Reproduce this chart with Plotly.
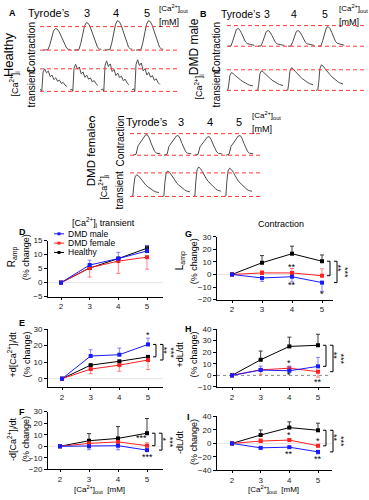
import plotly.graph_objects as go

W, H = 369, 500
FONT = "Liberation Sans, Arial, sans-serif"

# ---------------- DATA: representative traces (A-C) ----------------
CONTR_T = [0, 0.10, 0.16, 0.22, 0.28, 0.34, 0.40, 0.46, 0.52, 0.58, 0.64, 0.70, 0.76, 0.82, 0.88]
CONTR_HEALTHY = [0, 0, 0.02, 0.25, 0.6, 0.88, 1.0, 0.97, 0.85, 0.65, 0.42, 0.22, 0.1, 0.04, 0.03]
CONTR_MALE = [0, 0.02, 0.3, 0.7, 0.95, 1.0, 0.9, 0.7, 0.45, 0.25, 0.15, 0.12, 0.1, 0.06, 0.05]
CONTR_FEMALE = [0, 0.05, 0.45, 0.6, 0.7, 0.85, 0.98, 1.0, 0.85, 0.6, 0.35, 0.18, 0.1, 0.08, 0.07]

CA_T = [0, 0.06, 0.09, 0.13, 0.18, 0.24, 0.30, 0.36, 0.42, 0.48, 0.54, 0.60, 0.66, 0.72, 0.78, 0.84, 0.90]
CA_HEALTHY = [0.05, 0.08, 0.0, 0.85, 1.0, 0.82, 0.9, 0.65, 0.72, 0.52, 0.6, 0.45, 0.5, 0.35, 0.4, 0.28, 0.22]
CA_MALE = [0.0, 0.02, 0.3, 0.85, 1.0, 0.95, 0.85, 0.75, 0.68, 0.6, 0.52, 0.45, 0.4, 0.35, 0.3, 0.28, 0.25]
CA_FEMALE = [0.0, 0.02, 0.5, 0.9, 1.0, 0.95, 0.85, 0.72, 0.62, 0.52, 0.45, 0.38, 0.32, 0.27, 0.22, 0.2, 0.18]

# peak amplitude of each trace relative to the dashed reference lines
A_CONTR_AMP = [0.92, 1.17, 1.25, 1.25]
A_CA_AMP = [1.0, 1.2, 1.35, 1.4]
B_CONTR_AMP = [0.86, 0.76, 0.76, 0.95]
B_CA_AMP = [0.86, 0.95, 1.1, 1.24]
C_CONTR_AMP = [0.95, 0.91, 0.86, 0.91]
C_CA_AMP = [0.92, 1.08, 1.25, 1.2]

CONDITIONS = ["Tyrode\u2019s", "3", "4", "5"]

# ---------------- DATA: dose-response panels (D-I) ----------------
ca_out = [2, 3, 4, 5]
x_ticklabels = ["2", "3", "4", "5"]

D_male = [0, 6.3, 8.6, 11.3];   D_male_up = [0, 1.7, 2.2, 2.0];   D_male_dn = [0, 0, 0, 0]
D_female = [0, 5.3, 7.7, 9.1];  D_female_up = [0, 0, 0, 0];       D_female_dn = [0, 3.3, 4.4, 4.3]
D_healthy = [0, 5.2, 8.6, 12.3]; D_healthy_up = [0, 0, 0, 0.8];   D_healthy_dn = [0, 0, 0, 0]

E_male = [0, 13.7, 14.5, 20.7]; E_male_up = [0, 3.8, 4.0, 3.8];   E_male_dn = [0, 0, 0, 0]
E_female = [0, 5.8, 8.2, 11.3]; E_female_up = [0, 0, 0, 0];       E_female_dn = [0, 2.8, 3.7, 5.8]
E_healthy = [0, 8.2, 10.5, 13.2]; E_healthy_up = [0, 0, 0, 0];    E_healthy_dn = [0, 0, 0, 0]

F_male = [0, 0.0, 0.5, -3.3];   F_male_up = [0, 0, 0, 0];         F_male_dn = [0, 3.0, 3.5, 1.0]
F_female = [0, 2.5, 3.8, 0.5];  F_female_up = [0, 1.0, 0.5, 2.5]; F_female_dn = [0, 0, 0, 0]
F_healthy = [0, 4.8, 6.8, 11.3]; F_healthy_up = [0, 6.2, 10.2, 12.7]; F_healthy_dn = [0, 0, 0, 0]

G_male = [0, -2.8, -1.8, -6.5]; G_male_up = [0, 0, 0, 0];         G_male_dn = [0, 2.7, 4.2, 7.0]
G_female = [0, 1.2, 1.2, -1.0]; G_female_up = [0, 1.8, 3.5, 5.5]; G_female_dn = [0, 0, 0, 0]
G_healthy = [0, 9.3, 16.5, 10.5]; G_healthy_up = [0, 5.7, 6.0, 5.0]; G_healthy_dn = [0, 0, 0, 0]

H_male = [0, 4.6, 4.0, 7.8];    H_male_up = [0, 3.4, 4.0, 7.7];   H_male_dn = [0, 0, 0, 0]
H_female = [0, 4.8, 6.2, 3.2];  H_female_up = [0, 0, 0, 0];       H_female_dn = [0, 3.8, 2.0, 4.7]
H_healthy = [0, 13.5, 25.0, 26.0]; H_healthy_up = [0, 7.5, 8.0, 9.5]; H_healthy_dn = [0, 0, 0, 0]

I_male = [0, -6.5, -5.5, -12.5]; I_male_up = [0, 0, 0, 0];        I_male_dn = [0, 2.0, 2.0, 3.0]
I_female = [0, 3.5, 5.0, -3.5];  I_female_up = [0, 3.5, 2.0, 2.0]; I_female_dn = [0, 0, 0, 0]
I_healthy = [0, 12.5, 23.5, 19.5]; I_healthy_up = [0, 7.5, 8.5, 10.5]; I_healthy_dn = [0, 0, 0, 0]

# significance marks next to points: (x, y, text)
E_stars = [(5, 26.5, "*")]
F_stars = [(4.82, 7.5, "***"), (5, -9.5, "***")]
G_stars = [(4, 6.0, "**"), (4, -8.5, "**"), (5, -15.5, "*")]
H_stars = [(4, 11.0, "*"), (4, 0.0, "*"), (5, -5.5, "**")]
I_stars = [(4, 12.0, "*"), (4, -16.0, "**"), (5, 4.0, "*"), (5, -22.5, "**")]

# ---------------- helpers ----------------
def fx(px):
    return px / W

def fy(py):
    return 1 - py / H

BLUE, RED, BLACK = "#1a1aff", "#ff2020", "#000000"
ERR = {BLUE: "rgba(90,90,255,0.75)", RED: "rgba(255,90,90,0.75)", BLACK: "rgba(40,40,40,0.9)"}

fig = go.Figure()
layout = dict(width=W, height=H, margin=dict(l=0, r=0, t=0, b=0),
              paper_bgcolor="white", plot_bgcolor="rgba(0,0,0,0)",
              showlegend=False, font=dict(family=FONT, color="black", size=9))
shapes, annos = [], []

def text(px, py, s, size=9, angle=0, xanchor="center", yanchor="middle", bold=False, color="black"):
    if bold:
        s = "<b>" + s + "</b>"
    annos.append(dict(x=fx(px), y=fy(py), xref="paper", yref="paper", text=s, showarrow=False,
                      font=dict(size=size, family=FONT, color=color), textangle=angle,
                      xanchor=xanchor, yanchor=yanchor))

def pline(x0, y0, x1, y1, color="black", width=1):
    shapes.append(dict(type="line", xref="paper", yref="paper", x0=fx(x0), x1=fx(x1), y0=fy(y0), y1=fy(y1),
                       line=dict(color=color, width=width)))

# ---------------- trace panels ----------------
trace_rows = [
    (1, 40, 180, 43, 31, 47, 23, 8, 53, CONTR_T, CONTR_HEALTHY, A_CONTR_AMP),
    (2, 40, 180, 39, 31, 89, 66, 54, 96, CA_T, CA_HEALTHY, A_CA_AMP),
    (3, 227, 367, 228, 30, 43, 22, 8, 49, CONTR_T, CONTR_MALE, B_CONTR_AMP),
    (4, 227, 367, 226, 30, 88, 67, 54, 95, CA_T, CA_MALE, B_CA_AMP),
    (5, 130, 262, 133, 31, 154, 132, 118, 160, CONTR_T, CONTR_FEMALE, C_CONTR_AMP),
    (6, 130, 262, 131, 31, 196, 172, 160, 202, CA_T, CA_FEMALE, C_CA_AMP),
]
for (n, xl, xr, s0, sp, base, top, dtop, dbot, tt, shape, amps) in trace_rows:
    sx = "" if n == 1 else str(n)
    for k, a in enumerate(amps):
        fig.add_trace(go.Scatter(x=[k + t for t in tt], y=[a * v for v in shape], mode="lines",
                                 line=dict(color="#4d4d4d", width=1), xaxis="x" + sx, yaxis="y" + sx,
                                 hoverinfo="skip"))
    xr0 = (xl - s0) / sp
    xr1 = (xr - s0) / sp
    unit = base - top
    yr0 = (base - dbot) / unit
    yr1 = (base - dtop) / unit
    layout["xaxis" + sx] = dict(domain=[fx(xl), fx(xr)], range=[xr0, xr1], visible=False, anchor="y" + sx)
    layout["yaxis" + sx] = dict(domain=[fy(dbot), fy(dtop)], range=[yr0, yr1], visible=False, anchor="x" + sx)
    for yv in (0, 1):
        shapes.append(dict(type="line", xref="x" + sx + " domain", yref="y" + sx, x0=0, x1=1, y0=yv, y1=yv,
                           line=dict(color="#ff3b3b", width=1, dash="4px,3px")))

CA_HTML = "[Ca<sup>2+</sup>]"
# panel A labels
text(12, 9, "A", 9, bold=True)
for px, s in zip([49, 87, 116, 147], CONDITIONS):
    text(px, 9, s, 11)
text(157, 5, CA_HTML + "<sub>out</sub>", 8, xanchor="left")
text(157, 18, "[mM]", 9, xanchor="left")
text(8, 52, "Healthy", 13, angle=-90)
text(31, 45, "Contraction", 10, angle=-90)
text(15, 82, CA_HTML + "<sub>i</sub>", 9, angle=-90)
text(31, 86, "transient", 10, angle=-90)
# panel B labels
text(203, 10, "B", 9, bold=True)
for px, s in zip([241, 267, 294, 325], CONDITIONS):
    text(px, 10, s, 10.5)
text(337, 5, CA_HTML + "<sub>out</sub>", 8, xanchor="left")
text(337, 18, "[mM]", 9, xanchor="left")
text(194, 44, "DMD male", 12, angle=-90)
text(216, 45, "Contraction", 10, angle=-90)
text(199, 85, CA_HTML + "<sub>i</sub>", 9, angle=-90)
text(216, 86, "transient", 10, angle=-90)
# panel C labels
text(92, 117, "C", 9, bold=True)
for px, s in zip([147, 181, 210, 239], CONDITIONS):
    text(px, 120, s, 11)
text(250, 114, CA_HTML + "<sub>out</sub>", 8, xanchor="left")
text(250, 127, "[mM]", 9, xanchor="left")
text(91, 153, "DMD female", 11.5, angle=-90)
text(120, 140, "Contraction", 10, angle=-90)
text(104, 186, CA_HTML + "<sub>i</sub>", 9, angle=-90)
text(120, 190, "transient", 10, angle=-90)

# ---------------- dose-response panels ----------------
panels = [
    dict(n=7, xl=48, xr=163, p2=61, p5=147, yt=241, yb=298, yr=[-5, 15], yt_vals=[-5, 0, 5, 10, 15],
         series=[(D_healthy, D_healthy_up, D_healthy_dn, BLACK), (D_female, D_female_up, D_female_dn, RED),
                 (D_male, D_male_up, D_male_dn, BLUE)],
         stars=[], brackets=[], dotted=False),
    dict(n=8, xl=48, xr=163, p2=62, p5=148, yt=331, yb=390, yr=[-5, 30], yt_vals=[0, 10, 20, 30],
         series=[(E_healthy, E_healthy_up, E_healthy_dn, BLACK), (E_female, E_female_up, E_female_dn, RED),
                 (E_male, E_male_up, E_male_dn, BLUE)],
         stars=E_stars, brackets=[(E_male[3], E_healthy[3], "**", 1), (E_male[3], E_female[3], "***", 2)], dotted=False),
    dict(n=9, xl=48, xr=163, p2=60, p5=147, yt=415, yb=474, yr=[-20, 30], yt_vals=[-20, -10, 0, 10, 20, 30],
         series=[(F_healthy, F_healthy_up, F_healthy_dn, BLACK), (F_female, F_female_up, F_female_dn, RED),
                 (F_male, F_male_up, F_male_dn, BLUE)],
         stars=F_stars, brackets=[(F_healthy[3], F_female[3], "*", 1), (F_healthy[3], F_male[3], "***", 2)], dotted=False),
    dict(n=10, xl=217, xr=333, p2=232, p5=322, yt=237, yb=301, yr=[-20, 30], yt_vals=[-20, -10, 0, 10, 20, 30],
         series=[(G_healthy, G_healthy_up, G_healthy_dn, BLACK), (G_female, G_female_up, G_female_dn, RED),
                 (G_male, G_male_up, G_male_dn, BLUE)],
         stars=G_stars, brackets=[(G_healthy[3], G_female[3], "**", 1), (G_healthy[3], G_male[3], "***", 2)], dotted=False),
    dict(n=11, xl=217, xr=330, p2=232, p5=318, yt=331, yb=390, yr=[-10, 40], yt_vals=[-10, 0, 10, 20, 30, 40],
         series=[(H_healthy, H_healthy_up, H_healthy_dn, BLACK), (H_female, H_female_up, H_female_dn, RED),
                 (H_male, H_male_up, H_male_dn, BLUE)],
         stars=H_stars, brackets=[(H_healthy[3], H_male[3], "**", 1), (H_healthy[3], H_female[3], "***", 2)], dotted=True),
    dict(n=12, xl=217, xr=332, p2=232, p5=318, yt=420, yb=475, yr=[-40, 40], yt_vals=[-40, -20, 0, 20, 40],
         series=[(I_healthy, I_healthy_up, I_healthy_dn, BLACK), (I_female, I_female_up, I_female_dn, RED),
                 (I_male, I_male_up, I_male_dn, BLUE)],
         stars=I_stars, brackets=[(I_healthy[3], I_female[3], "**", 1), (I_healthy[3], I_male[3], "***", 2)], dotted=False),
]

for p in panels:
    sx = str(p["n"])
    unit = (p["p5"] - p["p2"]) / 3.0
    xr = [2 - (p["p2"] - p["xl"]) / unit, 5 + (p["xr"] - p["p5"]) / unit]
    y0, y1 = p["yr"]

    def ypx(v, p=p, y0=y0, y1=y1):
        return p["yb"] - (v - y0) / (y1 - y0) * (p["yb"] - p["yt"])

    layout["xaxis" + sx] = dict(domain=[fx(p["xl"]), fx(p["xr"])], range=xr, anchor="y" + sx,
                                showline=True, linecolor="black", linewidth=1, ticks="outside", ticklen=2,
                                tickwidth=1, tickcolor="black", tickvals=ca_out, ticktext=x_ticklabels,
                                tickfont=dict(size=8, family=FONT, color="#222"), showgrid=False, zeroline=False,
                                fixedrange=True)
    layout["yaxis" + sx] = dict(domain=[fy(p["yb"]), fy(p["yt"])], range=p["yr"], anchor="x" + sx,
                                showline=True, linecolor="black", linewidth=1, ticks="outside", ticklen=3,
                                tickwidth=1, tickcolor="black", tickvals=p["yt_vals"],
                                tickfont=dict(size=8, family=FONT, color="#222"), showgrid=False, zeroline=False,
                                fixedrange=True)
    shapes.append(dict(type="line", xref="x" + sx + " domain", yref="y" + sx, x0=0, x1=1, y0=0, y1=0, layer="below",
                       line=dict(color="#888" if p["dotted"] else "#e4e4e4", width=1,
                                 dash="dot" if p["dotted"] else "solid")))
    for vals, up, dn, col in p["series"]:
        fig.add_trace(go.Scatter(x=ca_out, y=vals, mode="lines+markers", xaxis="x" + sx, yaxis="y" + sx,
                                 line=dict(color=col, width=1), marker=dict(symbol="square", size=4, color=col),
                                 error_y=dict(type="data", symmetric=False, array=up, arrayminus=dn,
                                              color=ERR[col], thickness=1, width=2),
                                 cliponaxis=False, hoverinfo="skip"))
    for (sx_, sy_, st) in p["stars"]:
        annos.append(dict(x=sx_, y=sy_, xref="x" + sx, yref="y" + sx, text=st, showarrow=False,
                          font=dict(size=9, family=FONT, color="black"), xanchor="center", yanchor="middle"))
    # significance brackets right of the last dose (drawn in page pixels from the data values)
    for (va, vb, st, lvl) in p["brackets"]:
        xb = p["p5"] + 1 + 7 * lvl
        pa, pb = ypx(va), ypx(vb)
        pline(xb, pa, xb, pb)
        pline(xb - 3, pa, xb, pa)
        pline(xb - 3, pb, xb, pb)
        text(xb + 1, (pa + pb) / 2, st, 9, angle=90, xanchor="left")

# panel letters, titles, axis labels
text(22, 232, "D", 9, bold=True)
text(22, 325, "E", 9, bold=True)
text(22, 415, "F", 9, bold=True)
text(188, 234, "G", 9, bold=True)
text(188, 331, "H", 9, bold=True)
text(188, 421, "I", 9, bold=True)
text(103, 223, CA_HTML + "<sub>i</sub> transient", 9)
text(281, 224, "Contraction", 9)

text(12, 258, "R<sub>amp</sub>", 10, angle=-90)
text(26, 258, "(% change)", 9, angle=-90)
text(13, 357, "+d" + CA_HTML + "<sub>i</sub>/dt", 9, angle=-90)
text(27, 357, "(% change)", 9, angle=-90)
text(12, 443, "-d" + CA_HTML + "<sub>i</sub>/dt", 9, angle=-90)
text(26, 443, "(% change)", 9, angle=-90)
text(180, 262, "L<sub>amp</sub>", 10, angle=-90)
text(194, 262, "(% change)", 9, angle=-90)
text(180, 357, "+dL/dt", 9, angle=-90)
text(194, 357, "(% change)", 9, angle=-90)
text(180, 446, "-dL/dt", 9, angle=-90)
text(194, 446, "(% change)", 9, angle=-90)

text(100, 494, CA_HTML + "<sub>out</sub>  [mM]", 8)
text(273, 494.5, CA_HTML + "<sub>out</sub>  [mM]", 8)

# legend (panel D)
legend_names = ["DMD male", "DMD female", "Healthy"]
legend_cols = [BLUE, RED, BLACK]
for k, (nm, col) in enumerate(zip(legend_names, legend_cols)):
    yy = 234 + 9.5 * k
    pline(54, yy, 64, yy, color=col)
    shapes.append(dict(type="rect", xref="paper", yref="paper", x0=fx(57.5), x1=fx(60.5), y0=fy(yy - 1.5),
                       y1=fy(yy + 1.5), line=dict(width=0), fillcolor=col))
    text(66, yy, nm, 8.5, xanchor="left")

layout["shapes"] = shapes
layout["annotations"] = annos
fig.update_layout(**layout)
fig.write_html("out.html", config={"displayModeBar": False, "staticPlot": True})

# remove the browser's default page margin so the figure sits at the top-left corner
with open("out.html", "r", encoding="utf-8") as fh:
    html = fh.read()
html = html.replace("<body>", '<body style="margin:0;padding:0;overflow:hidden;">', 1)
with open("out.html", "w", encoding="utf-8") as fh:
    fh.write(html)
